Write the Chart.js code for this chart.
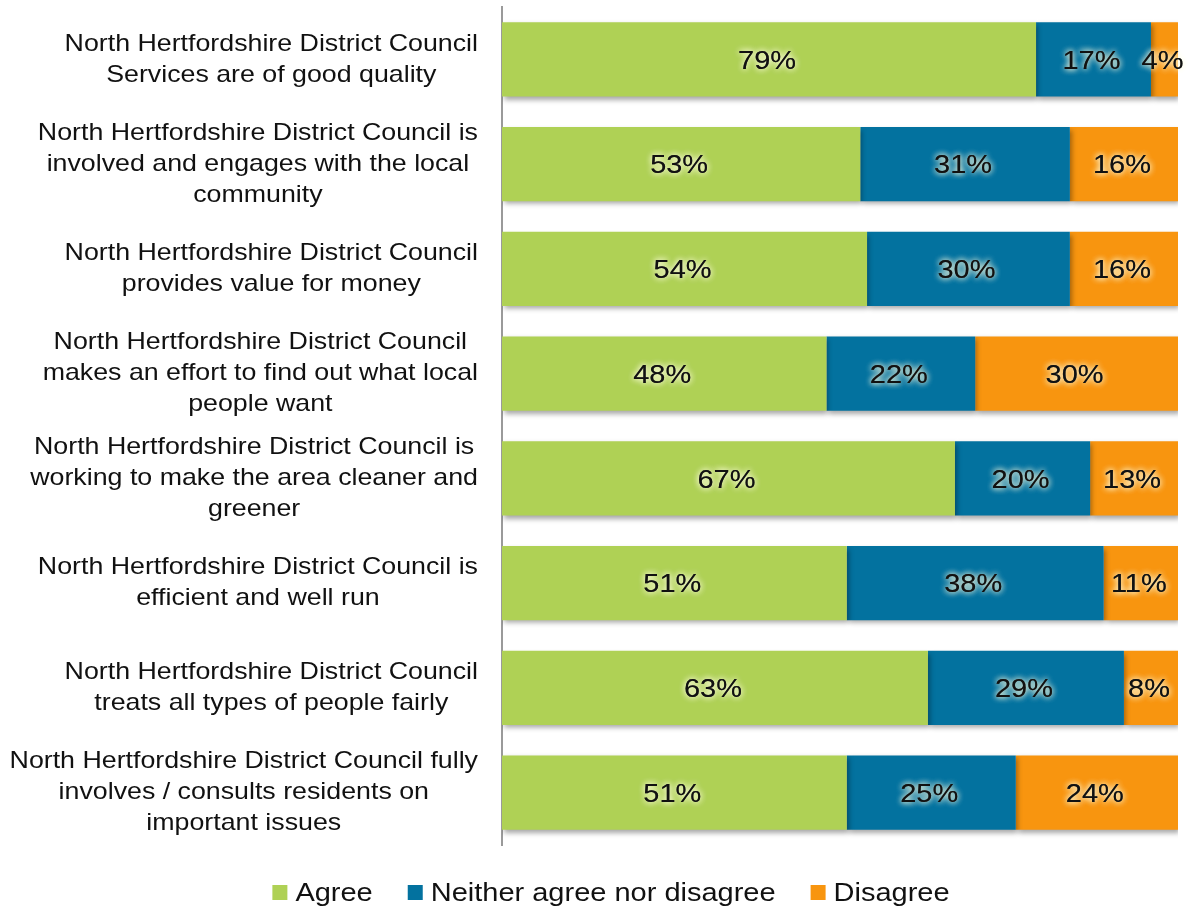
<!DOCTYPE html>
<html>
<head>
<meta charset="utf-8">
<script src="https://cdn.jsdelivr.net/npm/chart.js@4.4.0/dist/chart.umd.min.js"></script>
<style>
html,body{margin:0;padding:0;background:#fff;}
#wrap{width:1190px;height:909px;position:relative;}
</style>
</head>
<body>
<div id="wrap"><canvas id="c"></canvas></div>
<script>
const categories = [
  ["North Hertfordshire District Council", "Services are of good quality"],
  ["North Hertfordshire District Council is", "involved and engages with the local", "community"],
  ["North Hertfordshire District Council", "provides value for money"],
  ["North Hertfordshire District Council", "makes an effort to find out what local", "people want"],
  ["North Hertfordshire District Council is", "working to make the area cleaner and", "greener"],
  ["North Hertfordshire District Council is", "efficient and well run"],
  ["North Hertfordshire District Council", "treats all types of people fairly"],
  ["North Hertfordshire District Council fully", "involves / consults residents on", "important issues"]
];
const seriesNames = ["Agree", "Neither agree nor disagree", "Disagree"];
const agree = [79, 53, 54, 48, 67, 51, 63, 51];
const neither = [17, 31, 30, 22, 20, 38, 29, 25];
const disagree = [4, 16, 16, 30, 13, 11, 8, 24];
const colors = ["#afd155", "#03729f", "#f8950f"];

const FONT = "'Liberation Sans', Arial, sans-serif";
const LABEL_RIGHT = 478;
const SX = 1.115; // horizontal stretch of the original's text

function stretchedText(ctx, txt, x, y) {
  ctx.save();
  ctx.translate(x, y);
  ctx.scale(SX, 1);
  ctx.fillText(txt, 0, 0);
  ctx.restore();
}

const shadowPlugin = {
  id: 'shadowBars',
  beforeDatasetsDraw(chart) {
    const ctx = chart.ctx;
    ctx.save();
    ctx.shadowColor = 'rgba(0,0,0,0.35)';
    ctx.shadowBlur = 5;
    ctx.shadowOffsetX = 2;
    ctx.shadowOffsetY = 3;
  },
  afterDatasetsDraw(chart) {
    chart.ctx.restore();
  }
};

const labelsPlugin = {
  id: 'customLabels',
  afterDraw(chart) {
    const ctx = chart.ctx;
    const y = chart.scales.y;
    ctx.save();
    ctx.fillStyle = "#111111";
    ctx.textAlign = "center";
    ctx.textBaseline = "middle";
    // category labels: right-aligned block, centered lines
    ctx.font = "24px " + FONT;
    const lh = 31;
    categories.forEach((lines, i) => {
      const cy = y.getPixelForValue(i);
      const maxW = Math.max(...lines.map(l => ctx.measureText(l).width)) * SX;
      const cx = LABEL_RIGHT - maxW / 2;
      const startY = cy - (lines.length - 1) * lh / 2;
      lines.forEach((l, k) => stretchedText(ctx, l, cx, startY + k * lh));
    });
    // data labels
    ctx.font = "26px " + FONT;
    chart.data.datasets.forEach((ds, di) => {
      const meta = chart.getDatasetMeta(di);
      meta.data.forEach((bar, i) => {
        const v = ds.data[i];
        const x = (bar.x + bar.base) / 2 - 2;
        const txt = v + "%";
        ctx.save();
        ctx.shadowColor = 'rgba(255,255,225,1)';
        ctx.shadowBlur = 6;
        ctx.fillStyle = "#111111";
        stretchedText(ctx, txt, x, bar.y + 2);
        stretchedText(ctx, txt, x, bar.y + 2);
        ctx.restore();
      });
    });
    // legend
    ctx.font = "26px " + FONT;
    ctx.textAlign = "left";
    const box = 15, gapBox = 8, gapItem = 35;
    const widths = seriesNames.map(n => ctx.measureText(n).width * SX);
    const total = widths.reduce((a, w) => a + box + gapBox + w, 0) + gapItem * (seriesNames.length - 1);
    let lx = 611 - total / 2;
    const ly = 893;
    seriesNames.forEach((n, k) => {
      ctx.fillStyle = colors[k];
      ctx.fillRect(lx, ly - 8, box, box);
      lx += box + gapBox;
      ctx.fillStyle = "#111111";
      stretchedText(ctx, n, lx, ly + 1);
      lx += widths[k] + gapItem;
    });
    ctx.restore();
  }
};

new Chart(document.getElementById('c'), {
  type: 'bar',
  data: {
    labels: categories,
    datasets: [
      { label: seriesNames[0], data: agree, backgroundColor: colors[0] },
      { label: seriesNames[1], data: neither, backgroundColor: colors[1] },
      { label: seriesNames[2], data: disagree, backgroundColor: colors[2] }
    ]
  },
  options: {
    indexAxis: 'y',
    responsive: true,
    maintainAspectRatio: false,
    animation: false,
    datasets: { bar: { categoryPercentage: 1, barPercentage: 0.71 } },
    layout: { padding: { left: 0, right: 12, top: 7, bottom: 64 } },
    scales: {
      x: { stacked: true, min: 0, max: 100, display: false },
      y: {
        stacked: true,
        grid: { display: false, drawTicks: false },
        border: { display: true, color: '#9a9a9a', width: 2 },
        ticks: { display: false },
        afterFit(scale) { scale.width = 502; }
      }
    },
    plugins: {
      legend: { display: false },
      tooltip: { enabled: false }
    }
  },
  plugins: [shadowPlugin, labelsPlugin]
});
</script>
</body>
</html>
